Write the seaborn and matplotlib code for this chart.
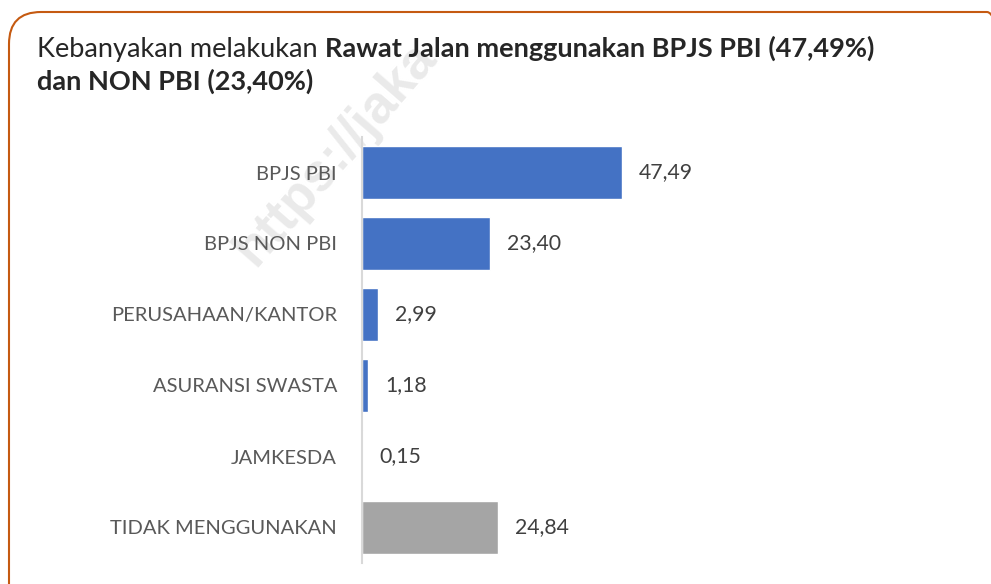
import matplotlib
matplotlib.use("Agg")
import matplotlib.pyplot as plt
import seaborn as sns
from matplotlib.patches import FancyBboxPatch
from matplotlib.transforms import IdentityTransform

categories = ["BPJS PBI", "BPJS NON PBI", "PERUSAHAAN/KANTOR", "ASURANSI SWASTA",
              "JAMKESDA", "TIDAK MENGGUNAKAN"]
values = [47.49, 23.40, 2.99, 1.18, 0.15, 24.84]
value_labels = ["47,49", "23,40", "2,99", "1,18", "0,15", "24,84"]
bar_colors = ["#4472C4", "#4472C4", "#4472C4", "#4472C4", "#4472C4", "#A5A5A5"]
title_normal = "Kebanyakan melakukan "
title_bold_1 = "Rawat Jalan menggunakan BPJS PBI (47,49%)"
title_bold_2 = "dan NON PBI (23,40%)"
watermark = "https://jaka"

W, H = 991, 584
sns.set_theme(style="white")
plt.rcParams["font.family"] = ["Lato", "DejaVu Sans"]

fig = plt.figure(figsize=(W / 100, H / 100), dpi=100)
fig.patch.set_facecolor("white")
renderer = fig.canvas.get_renderer()


def fit(txt, target_px):
    w = txt.get_window_extent(renderer).width
    txt.set_fontsize(txt.get_fontsize() * target_px / w)


# rounded orange frame (extends beyond right/bottom edges)
frame = FancyBboxPatch((9, -40), 1010, H - 12 + 40,
                       boxstyle="round,pad=0,rounding_size=32",
                       transform=IdentityTransform(), facecolor="none",
                       edgecolor="#C55A11", linewidth=1.5, zorder=5)
fig.patches.append(frame)

# watermark
fig.text(255 / W, 1 - 268 / H, watermark, rotation=49, rotation_mode="anchor",
         ha="left", va="baseline", fontsize=38, fontweight="bold",
         family=["Liberation Sans", "DejaVu Sans"],
         color="#eaeaea", zorder=-5)

# title
t1 = fig.text(37 / W, 1 - 57 / H, title_normal, fontsize=16, color="#262626",
              ha="left", va="baseline")
t2 = fig.text(0, 1 - 57 / H, title_bold_1, fontsize=16, color="#262626",
              fontweight="bold", ha="left", va="baseline")
w_total = t1.get_window_extent(renderer).width + t2.get_window_extent(renderer).width
scale = 838 / w_total
t1.set_fontsize(16 * scale)
t2.set_fontsize(16 * scale)
x2 = 37 + t1.get_window_extent(renderer).width
t2.set_x(x2 / W)
t3 = fig.text(37 / W, 1 - 90 / H, title_bold_2, fontsize=16 * scale, color="#262626",
              fontweight="bold", ha="left", va="baseline")

# chart axes
ax = fig.add_axes([362 / W, 21 / H, 547.5 / W, 426 / H])
ax.patch.set_alpha(0)
sns.barplot(x=values, y=categories, hue=categories, palette=bar_colors,
            legend=False, orient="h", width=0.76, saturation=1, ax=ax, zorder=3)
ax.set_xlim(0, 100)
ax.set_xticks([])
ax.set_xlabel("")
ax.set_ylabel("")
for s in ["top", "right", "bottom"]:
    ax.spines[s].set_visible(False)
ax.spines["left"].set_color("#d9d9d9")
ax.spines["left"].set_linewidth(1.5)
ax.spines["left"].set_zorder(4)

# tick label size fitted so "PERUSAHAAN/KANTOR" spans ~225px
probe = fig.text(0, 0, "PERUSAHAAN/KANTOR", fontsize=12)
fit(probe, 225)
tick_fs = probe.get_fontsize()
probe.remove()
ax.tick_params(axis="y", length=0, pad=18, labelsize=tick_fs, labelcolor="#595959")

probe = fig.text(0, 0, "47,49", fontsize=12)
fit(probe, 54)
val_fs = probe.get_fontsize()
probe.remove()
for i, (v, lab) in enumerate(zip(values, value_labels)):
    ax.annotate(lab, xy=(v, i), xytext=(12, 0), textcoords="offset points",
                ha="left", va="center", fontsize=val_fs, color="#404040")

fig.savefig("out.png", dpi=100, facecolor="white")
